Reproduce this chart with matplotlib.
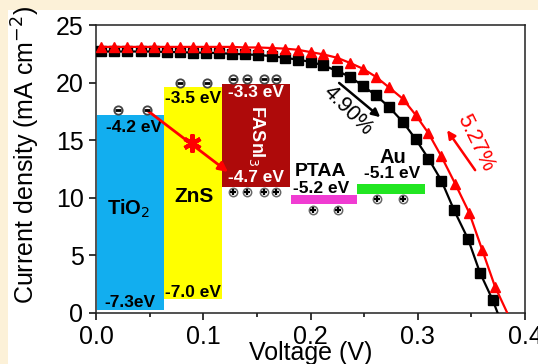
import matplotlib

matplotlib.use("Agg")
import matplotlib.pyplot as plt
from matplotlib.patches import Rectangle
from matplotlib.ticker import MultipleLocator

plt.rcParams["font.family"] = ["Liberation Sans", "DejaVu Sans"]

# J-V curves (V, mA cm^-2)
voltage_black = [0.005, 0.017, 0.029, 0.042, 0.054, 0.066, 0.078, 0.090, 0.103, 0.115,
                 0.127, 0.139, 0.151, 0.164, 0.176, 0.188, 0.200, 0.212, 0.225, 0.237,
                 0.249, 0.261, 0.273, 0.286, 0.298, 0.310, 0.322, 0.334, 0.347, 0.358,
                 0.370, 0.3745]
current_black = [22.7, 22.7, 22.7, 22.7, 22.7, 22.65, 22.65, 22.6, 22.6, 22.55,
                 22.5, 22.45, 22.4, 22.3, 22.15, 22.0, 21.8, 21.5, 21.0, 20.5,
                 19.7, 18.9, 17.9, 16.6, 15.1, 13.4, 11.5, 8.9, 6.4, 3.5,
                 1.1, 0.0]
voltage_red = [0.005, 0.017, 0.029, 0.042, 0.054, 0.066, 0.078, 0.090, 0.103, 0.115,
               0.127, 0.139, 0.151, 0.164, 0.176, 0.188, 0.200, 0.212, 0.225, 0.237,
               0.249, 0.261, 0.273, 0.286, 0.298, 0.310, 0.322, 0.335, 0.348, 0.360,
               0.372, 0.3835]
current_red = [23.1, 23.1, 23.1, 23.1, 23.1, 23.1, 23.1, 23.1, 23.1, 23.1,
               23.1, 23.05, 23.05, 23.0, 22.95, 22.85, 22.65, 22.45, 22.15, 21.7,
               21.2, 20.5, 19.6, 18.6, 17.2, 15.6, 13.6, 11.2, 8.7, 5.5,
               2.3, 0.0]
pce_black = "4.90%"
pce_red = "5.27%"

# energy level scheme (drawn in axis units)
layers = ["TiO$_2$", "ZnS", "FASnI$_3$", "PTAA", "Au"]
layer_colors = ["#12AEEF", "#FFFF00", "#AE0A0A", "#F03CD2", "#22E622"]
layer_left = [0.001, 0.0634, 0.1175, 0.1815, 0.2437]
layer_right = [0.0634, 0.1175, 0.181, 0.2437, 0.307]
layer_top = [17.2, 19.65, 19.9, 10.24, 11.2]
layer_bottom = [0.25, 1.2, 10.97, 9.46, 10.3]
upper_levels = ["-4.2 eV", "-3.5 eV", "-3.3 eV"]
lower_levels = ["-7.3eV", "-7.0 eV", "-4.7 eV"]
ptaa_level = "-5.2 eV"
au_level = "-5.1 eV"

electron_v = [0.0205, 0.0476, 0.0784, 0.1035, 0.1278, 0.1409, 0.1567, 0.1679]
electron_j = [17.6, 17.6, 19.97, 19.97, 20.3, 20.3, 20.3, 20.3]
hole_v = [0.1278, 0.1409, 0.1567, 0.1679, 0.2024, 0.2257, 0.2621, 0.2864]
hole_j = [10.5, 10.5, 10.5, 10.5, 8.94, 8.94, 9.9, 9.9]

fig = plt.figure(figsize=(5.38, 3.64), dpi=100, facecolor="#FCF1D8")
fig.add_artist(Rectangle((8 / 538, 0), 1, 1 - 10 / 364, transform=fig.transFigure,
                         facecolor="white", edgecolor="none", zorder=0))
ax = fig.add_axes([96 / 538, 1 - 313 / 364, 429 / 538, 288 / 364])
ax.set_facecolor("white")

# energy diagram
widths = [r - l for l, r in zip(layer_left, layer_right)]
heights = [t - b for t, b in zip(layer_top, layer_bottom)]
ax.bar(layer_left, heights, width=widths, bottom=layer_bottom, align="edge",
       color=layer_colors, edgecolor="none", zorder=1)

bold = dict(fontweight="bold", ha="center", va="center")
ax.text(0.0354, 16.1, upper_levels[0], fontsize=12.5, **bold)
ax.text(0.0317, 0.9, lower_levels[0], fontsize=12.5, **bold)
ax.text(0.0308, 9.0, layers[0], fontsize=14.5, **bold)
ax.text(0.0905, 18.66, upper_levels[1], fontsize=12.5, **bold)
ax.text(0.0914, 10.15, layers[1], fontsize=15, **bold)
ax.text(0.0905, 1.8, lower_levels[1], fontsize=12.5, **bold)
ax.text(0.149, 19.14, upper_levels[2], fontsize=12.5, color="white", **bold)
ax.text(0.1505, 15.4, layers[2], fontsize=13, color="white", rotation=270, **bold)
ax.text(0.149, 11.76, lower_levels[2], fontsize=12.5, color="white", **bold)
ax.text(0.2095, 12.3, layers[3], fontsize=14, **bold)
ax.text(0.21, 10.85, ptaa_level, fontsize=12.5, **bold)
ax.text(0.277, 13.5, layers[4], fontsize=14.5, **bold)
ax.text(0.276, 12.15, au_level, fontsize=12.5, **bold)

ax.plot(electron_v, electron_j, "o", ms=6, mfc="white", mec="#444444", mew=1.3, zorder=4)
ax.plot(electron_v, electron_j, "_", ms=4.5, color="black", mew=2, zorder=5)
ax.plot(hole_v, hole_j, "o", ms=6, mfc="white", mec="#666666", mew=1.1, zorder=4)
ax.plot(hole_v, hole_j, "+", ms=4.5, color="black", mew=1.6, zorder=5)

# blocked electron transfer TiO2 -> FASnI3
ax.annotate("", xy=(0.1231, 12.24), xytext=(0.0476, 17.6),
            arrowprops=dict(arrowstyle="-|>", color="red", lw=2, mutation_scale=14,
                            shrinkA=0, shrinkB=0), zorder=4)
ax.plot([0.0896], [14.76], marker=(6, 2, 0), ms=13, mew=3, color="red", zorder=5)

# J-V curves
ax.plot(voltage_black, current_black, color="black", lw=1.6, marker="s", ms=6.5,
        markevery=slice(0, len(voltage_black) - 1), zorder=3)
ax.plot(voltage_red, current_red, color="red", lw=1.6, marker="^", ms=7.5,
        markevery=slice(0, len(voltage_red) - 1), zorder=3)

ax.annotate("", xy=(0.265, 17.0), xytext=(0.2267, 19.97),
            arrowprops=dict(arrowstyle="-|>", color="black", lw=1.8, mutation_scale=12,
                            shrinkA=0, shrinkB=0))
ax.text(0.235, 17.6, pce_black, fontsize=15.5, rotation=-45, ha="center", va="center")
ax.annotate("", xy=(0.3274, 15.87), xytext=(0.3535, 12.4),
            arrowprops=dict(arrowstyle="-|>", color="red", lw=1.8, mutation_scale=12,
                            shrinkA=0, shrinkB=0))
ax.text(0.3535, 14.76, pce_red, fontsize=15.5, rotation=-64, ha="center", va="center",
        color="red")

ax.set_xlim(0, 0.4)
ax.set_ylim(0, 25)
ax.xaxis.set_major_locator(MultipleLocator(0.1))
ax.xaxis.set_minor_locator(MultipleLocator(0.05))
ax.yaxis.set_major_locator(MultipleLocator(5))
ax.tick_params(which="major", direction="out", length=5, width=1.1, labelsize=18, pad=4)
ax.tick_params(which="minor", direction="out", length=3, width=1.1)
for spine in ax.spines.values():
    spine.set_linewidth(1.1)
    spine.set_color("#222222")

ax.set_xlabel("Voltage (V)", fontsize=18, va="center")
ax.xaxis.set_label_coords(0.5, -0.1406)
ax.set_ylabel("Current density (mA cm$^{-2}$)", fontsize=18, va="center")
ax.yaxis.set_label_coords(-0.163, 0.55)

fig.savefig("out.png", dpi=100, facecolor=fig.get_facecolor())
